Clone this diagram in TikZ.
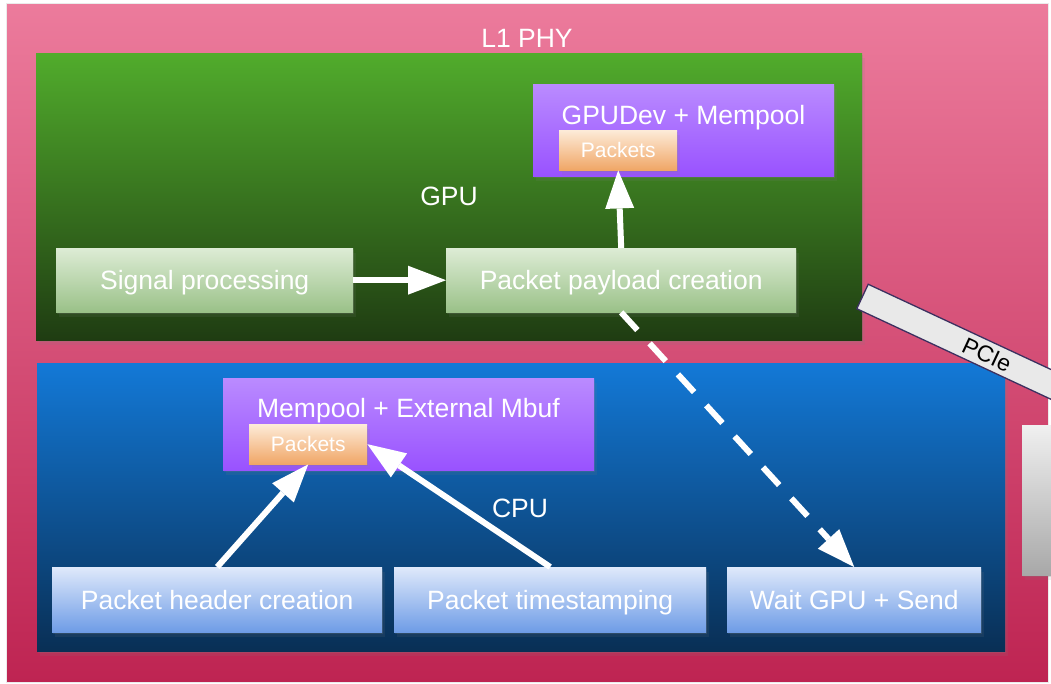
\documentclass[tikz,border=0pt]{standalone}
\usepackage{fontspec}
\setmainfont{Liberation Sans}
\usetikzlibrary{arrows.meta,shadows,calc}

\definecolor{pinkT}{RGB}{236,123,156}
\definecolor{pinkB}{RGB}{190,36,82}
\definecolor{greenT}{RGB}{81,172,44}
\definecolor{greenB}{RGB}{31,60,18}
\definecolor{blueT}{RGB}{19,121,215}
\definecolor{blueB}{RGB}{9,47,85}
\definecolor{violetT}{RGB}{186,139,255}
\definecolor{violetB}{RGB}{153,82,255}
\definecolor{peachT}{RGB}{253,235,216}
\definecolor{peachB}{RGB}{240,166,102}
\definecolor{mintT}{RGB}{221,236,213}
\definecolor{mintB}{RGB}{154,193,136}
\definecolor{skyT}{RGB}{223,233,251}
\definecolor{skyB}{RGB}{110,156,230}
\definecolor{greyT}{RGB}{240,240,240}
\definecolor{greyB}{RGB}{168,168,168}
\definecolor{busfill}{RGB}{233,233,233}
\definecolor{busline}{RGB}{60,48,96}

\begin{document}
\begin{tikzpicture}[
  x=1pt, y=-1pt,
  bigfont/.style={font=\fontsize{26.5}{31}\selectfont,
    text height=19pt, text depth=0pt},
  smallfont/.style={font=\fontsize{21}{25}\selectfont,
    text height=15pt, text depth=0pt},
  boxshadow/.style={
    drop shadow={shadow xshift=1pt, shadow yshift=-2pt, opacity=0.22},
    drop shadow={shadow xshift=2.5pt, shadow yshift=-4.5pt, opacity=0.12}},
  region/.style={draw=none, inner sep=0pt, anchor=north west},
  gradbox/.style 2 args={region, top color=#1, bottom color=#2},
  stagebox/.style={region, boxshadow, text=white, bigfont},
  packetbox/.style={region, boxshadow, gradbox={peachT}{peachB},
    text=white, smallfont},
  caption/.style={text=white, bigfont, inner sep=0pt},
  flow/.style={draw=white, line width=6pt, line cap=butt,
    -{Triangle[length=38pt,width=29pt,line width=0pt]}},
  dashflow/.style={flow, dash pattern=on 24pt off 18pt}
]
\useasboundingbox (0,0) rectangle (1051,684);
\clip (0,0) rectangle (1051,684);
\fill[white] (0,0) rectangle (1051,684);

% L1 PHY frame
\node[gradbox={pinkT}{pinkB}, draw=black!8, line width=0.8pt,
      minimum width=1042pt, minimum height=679pt] (phy) at (6,3) {};

% GPU and CPU areas
\node[gradbox={greenT}{greenB}, boxshadow,
      minimum width=826pt, minimum height=287pt] (gpu) at (36,53) {};
\node[gradbox={blueT}{blueB}, boxshadow,
      minimum width=968pt, minimum height=288pt] (cpu) at (37,363) {};

% NIC block at the right border
\node[gradbox={greyT}{greyB}, boxshadow,
      minimum width=40pt, minimum height=150pt] (nic) at (1022,425) {};

% PCIe bus
\begin{scope}[shift={(862.5,296.5)}, rotate=-25]
  \draw[fill=busfill, draw=busline, line width=1.3pt]
    (0,-13.5) rectangle (330,13.5);
  \node[transform shape, inner sep=0pt, text=black,
        font=\fontsize{23}{27}\selectfont,
        text height=16.5pt, text depth=0pt] (pcie) at (137.5,0) {PCIe};
\end{scope}

% GPU memory
\node[region, boxshadow, gradbox={violetT}{violetB},
      minimum width=301pt, minimum height=92pt] (gpumem) at (533,84) {};
\node[caption] (gpumemtitle) at (683.5,115) {GPUDev + Mempool};
\node[packetbox, minimum width=118pt, minimum height=40pt]
      (gpupk) at (559,130) {Packets};

% CPU memory
\node[region, boxshadow, gradbox={violetT}{violetB},
      minimum width=371pt, minimum height=92pt] (cpumem) at (223,378) {};
\node[caption] (cpumemtitle) at (408.5,408) {Mempool + External Mbuf};
\node[packetbox, minimum width=118pt, minimum height=40pt]
      (cpupk) at (249,424) {Packets};

% GPU stages
\node[stagebox, gradbox={mintT}{mintB},
      minimum width=297pt, minimum height=64pt] (signal) at (56,248) {Signal processing};
\node[stagebox, gradbox={mintT}{mintB},
      minimum width=350pt, minimum height=64pt] (payload) at (446,248) {Packet payload creation};

% CPU stages
\node[stagebox, gradbox={skyT}{skyB},
      minimum width=330pt, minimum height=65pt] (header) at (52,567) {Packet header creation};
\node[stagebox, gradbox={skyT}{skyB},
      minimum width=312pt, minimum height=65pt] (stamp) at (394,567) {Packet timestamping};
\node[stagebox, gradbox={skyT}{skyB},
      minimum width=254pt, minimum height=65pt] (wait) at (727,567) {Wait GPU + Send};

% Area captions
\node[caption] (phylabel) at (527,38.5) {L1 PHY};
\node[caption] (gpulabel) at (449,196) {GPU};
\node[caption] (cpulabel) at (520,507.5) {CPU};

% Data flow
\draw[flow] (signal.east) -- (payload.west);
\draw[flow] (payload.north) -- (gpupk.south);
\draw[dashflow] (payload.south) -- (wait.north);
\draw[flow] (header.north) -- (cpupk.south);
\draw[flow] (stamp.north) -- (cpupk.east);
\end{tikzpicture}
\end{document}
